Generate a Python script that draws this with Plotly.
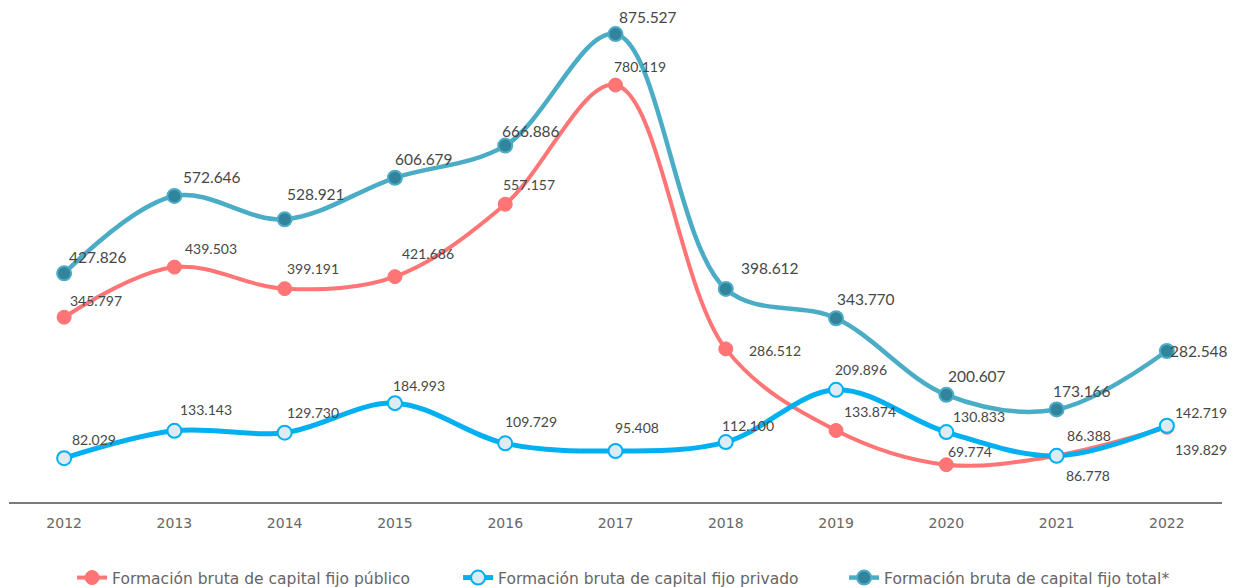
import plotly.graph_objects as go

years = ["2012", "2013", "2014", "2015", "2016", "2017", "2018", "2019", "2020", "2021", "2022"]
publico = [345.797, 439.503, 399.191, 421.686, 557.157, 780.119, 286.512, 133.874, 69.774, 86.778, 139.829]
privado = [82.029, 133.143, 129.730, 184.993, 109.729, 95.408, 112.100, 209.896, 130.833, 86.388, 142.719]
total = [427.826, 572.646, 528.921, 606.679, 666.886, 875.527, 398.612, 343.770, 200.607, 173.166, 282.548]

names = ["Formación bruta de capital fijo público",
         "Formación bruta de capital fijo privado",
         "Formación bruta de capital fijo total*"]

# label offsets in pixels (dx, dy) relative to each point (screen coords, dy positive = down)
off_pub = [(32, -17), (37, -19), (28, -20), (33, -23), (24, -20), (24, -19), (49, 2), (34, -19), (24, -13), (31, 20), (34, 22)]
off_priv = [(30, -19), (32, -21), (28, -20), (24, -18), (26, -22), (21, -24), (22, -17), (25, -20), (33, -16), (32, -20), (34, -13)]
off_tot = [(34, -16), (38, -19), (31, -25), (29, -19), (26, -15), (32, -17), (44, -21), (30, -19), (31, -19), (25, -18), (32, 0)]

def fmt(v):
    return f"{v:.3f}"

fig = go.Figure()
fig.add_trace(go.Scatter(
    x=years, y=publico, name=names[0], mode="lines+markers",
    line=dict(color="#FF7575", width=4, shape="spline", smoothing=1.0),
    marker=dict(size=14, color="#FF7575", line=dict(color="#FF7575", width=1)),
    hoverinfo="skip"))
fig.add_trace(go.Scatter(
    x=years, y=privado, name=names[1], mode="lines+markers",
    line=dict(color="#00B0F0", width=5, shape="spline", smoothing=1.0),
    marker=dict(size=14, color="#DDEBF5", line=dict(color="#00B0F0", width=2)),
    hoverinfo="skip"))
fig.add_trace(go.Scatter(
    x=years, y=total, name=names[2], mode="lines+markers",
    line=dict(color="#4BACC6", width=4.5, shape="spline", smoothing=1.0),
    marker=dict(size=14, color="#31849B", line=dict(color="#4BACC6", width=2)),
    hoverinfo="skip"))

annotations = []
for series, offs, size in ((publico, off_pub, 14), (privado, off_priv, 14), (total, off_tot, 15.5)):
    for i, (v, (dx, dy)) in enumerate(zip(series, offs)):
        annotations.append(dict(
            x=i, y=v, xref="x", yref="y", text=fmt(v), showarrow=False,
            xshift=dx, yshift=-dy,
            font=dict(family="Lato", size=size, color="#474747")))

fig.update_layout(
    width=1243, height=587,
    margin=dict(l=1, r=29, t=13, b=92),
    paper_bgcolor="white", plot_bgcolor="white",
    showlegend=True,
    legend=dict(orientation="h", x=0.052, xanchor="left", y=-0.1556, yanchor="middle",
                font=dict(family="DejaVu Sans", size=15.5, color="#666666"),
                entrywidth=341, entrywidthmode="pixels", tracegroupgap=0),
    annotations=annotations,
    xaxis=dict(type="category", range=[-0.5, 10.5], showgrid=False, zeroline=False,
               showline=True, linecolor="#7A7A82", linewidth=2, ticks="",
               ticklabelstandoff=7,
               tickfont=dict(family="DejaVu Sans", size=14, color="#666666"),
               fixedrange=True),
    yaxis=dict(range=[0, 900], showgrid=False, zeroline=False, showticklabels=False,
               showline=False, fixedrange=True),
)

fig.write_html("out.html")
